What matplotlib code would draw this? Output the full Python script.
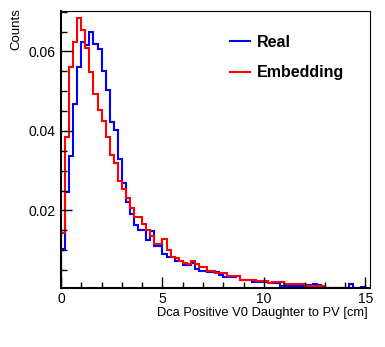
#!/usr/bin/env python3

import numpy as np
import matplotlib
matplotlib.use("Agg")
import matplotlib.pyplot as plt
from matplotlib.ticker import MultipleLocator, FixedLocator

plt.rcParams["font.family"] = ["Liberation Sans", "DejaVu Sans"]

# normalised dca distributions, 0.2 cm bins from 0 to 15.2 cm
bin_edges = np.round(np.arange(0, 15.2 + 1e-9, 0.2), 1)

real = [
    0.0104, 0.0247, 0.0337, 0.0468, 0.0562, 0.0623, 0.0617, 0.0650, 0.0618, 0.0607,
    0.0552, 0.0502, 0.0422, 0.0403, 0.0329, 0.0268, 0.0221, 0.0191, 0.0163, 0.0152,
    0.0152, 0.0125, 0.0148, 0.0110, 0.0110, 0.0091, 0.0083, 0.0083, 0.0074, 0.0074,
    0.0064, 0.0062, 0.0068, 0.0053, 0.0049, 0.0049, 0.0045, 0.0045, 0.0045, 0.0037,
    0.0032, 0.0032, 0.0032, 0.0034, 0.0024, 0.0024, 0.0024, 0.0020, 0.0020, 0.0021,
    0.0021, 0.0017, 0.0017, 0.0017, 0.0011, 0.0011, 0.0011, 0.0011, 0.0011, 0.0011,
    0.0013, 0.0013, 0.0014, 0.0013, 0.0006, 0.0006, 0.0006, 0.0006, 0.0006, 0.0006,
    0.0006, 0.0014, 0.0006, 0.0006, 0.0008, 0.0006,
]
embedding = [
    0.0143, 0.0385, 0.0560, 0.0623, 0.0684, 0.0654, 0.0609, 0.0549, 0.0492, 0.0453,
    0.0425, 0.0385, 0.0340, 0.0319, 0.0275, 0.0255, 0.0231, 0.0206, 0.0184, 0.0184,
    0.0167, 0.0150, 0.0136, 0.0116, 0.0115, 0.0129, 0.0100, 0.0084, 0.0081, 0.0072,
    0.0068, 0.0066, 0.0072, 0.0066, 0.0058, 0.0058, 0.0049, 0.0049, 0.0042, 0.0042,
    0.0042, 0.0034, 0.0034, 0.0034, 0.0024, 0.0024, 0.0024, 0.0024, 0.0022, 0.0022,
    0.0022, 0.0017, 0.0020, 0.0020, 0.0020, 0.0014, 0.0014, 0.0014, 0.0014, 0.0014,
    0.0009, 0.0009, 0.0009, 0.0011, 0.0011, 0.0006, 0.0006, 0.0006, 0.0006, 0.0006,
    0.0006, 0.0006, 0.0006, 0.0006, 0.0006, 0.0006,
]

x_ticks = [0, 5, 10, 15]
y_ticks = [0.02, 0.04, 0.06]

fig = plt.figure(figsize=(3.85, 3.47), dpi=100)
ax = fig.add_axes([61 / 385, 1 - 288 / 347, (369.5 - 61) / 385, (288 - 10.5) / 347])

ax.stairs(real, bin_edges, color=(0, 0, 1), lw=1.5, label="Real")
ax.stairs(embedding, bin_edges, color=(1, 0, 0), lw=1.5, label="Embedding")

ax.set_xlim(0, 15.2)
ax.set_ylim(0.0005, 0.0703)

# ROOT-like frame: heavy axes on left/bottom, thin box elsewhere
for side in ("left", "bottom"):
    ax.spines[side].set_linewidth(1.5)
for side in ("top", "right"):
    ax.spines[side].set_linewidth(0.8)

ax.xaxis.set_major_locator(FixedLocator(x_ticks))
ax.xaxis.set_minor_locator(MultipleLocator(1))
ax.yaxis.set_major_locator(FixedLocator(y_ticks))
ax.yaxis.set_minor_locator(MultipleLocator(0.005))
ax.set_yticklabels([f"{v:.2f}" for v in y_ticks])
ax.tick_params(which="both", direction="in", top=False, right=False,
               width=1.0, labelsize=10, colors="black")
ax.tick_params(which="major", length=8, pad=4)
ax.tick_params(which="minor", length=4)
ax.tick_params(axis="x", pad=3)

fig.text(368 / 385, 1 - 313 / 347, "Dca Positive V0 Daughter to PV [cm]",
         ha="right", va="center", fontsize=9.3)
fig.text(16 / 385, 1 - 8 / 347, "Counts", rotation=90,
         ha="center", va="top", fontsize=9.5)

leg = ax.legend(loc="upper left", bbox_to_anchor=(222 / 385, 1 - 27 / 347),
                bbox_transform=fig.transFigure, frameon=False, borderpad=0,
                prop={"weight": "bold", "size": 11.5}, handlelength=1.25,
                handletextpad=0.45, labelspacing=0.95)

fig.savefig("out.png", dpi=100)
